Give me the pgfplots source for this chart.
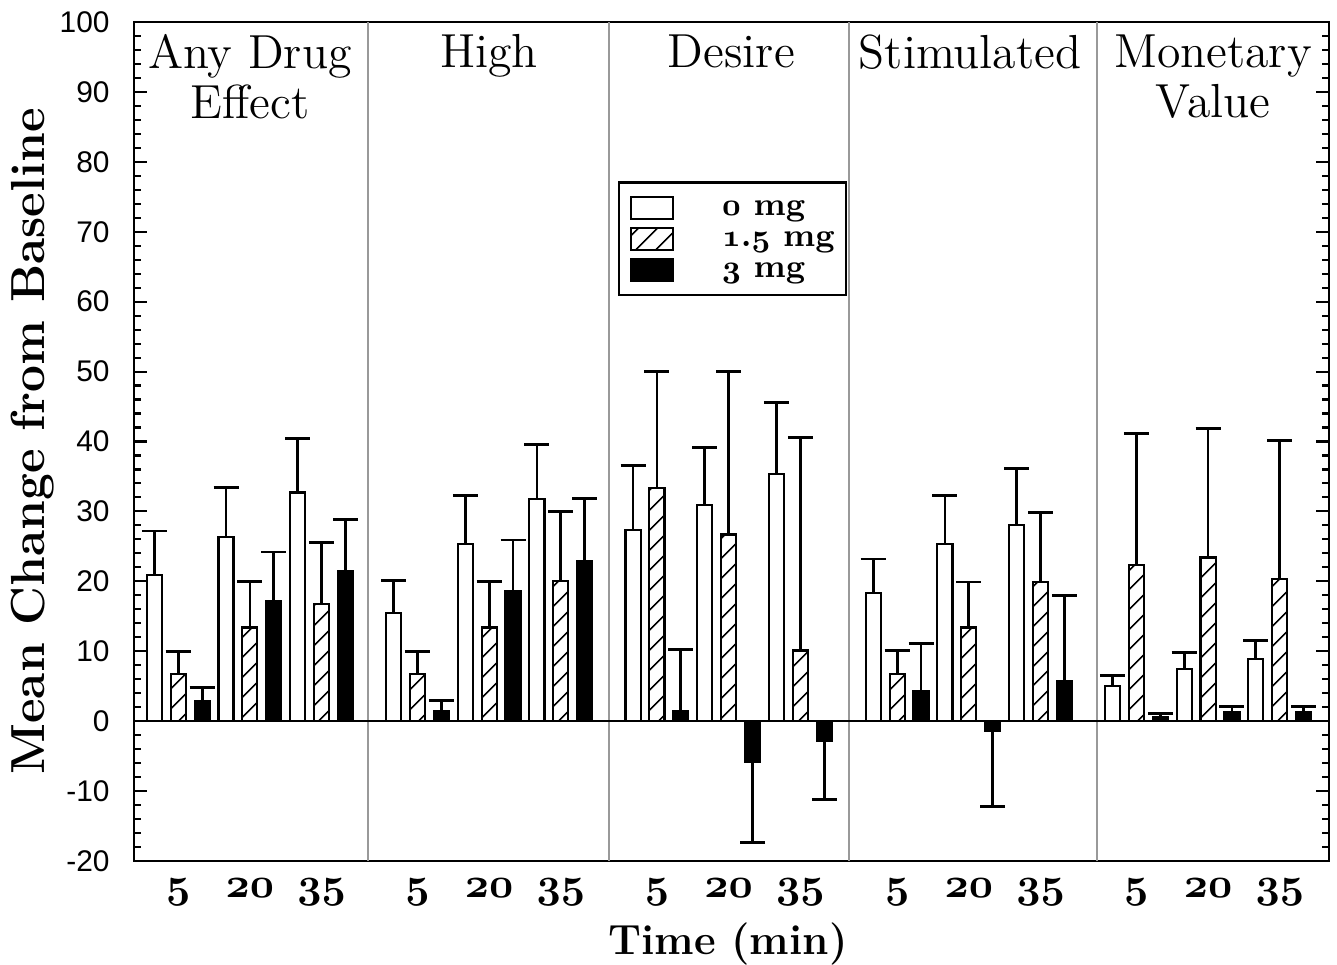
\documentclass[border=0pt]{standalone}
\usepackage{fontspec}
\setsansfont{Liberation Sans}
\usepackage{pgfplots}
\pgfplotsset{compat=1.18}
\usetikzlibrary{patterns.meta}
% old-style bold digits, as in the reference
\newcommand\osn[1]{{\boldmath$\mathnormal{#1}$}}

\pgfplotsset{
  bars/.style={ybar, bar width=0.63, bar shift=0pt, draw=black, line width=0.6pt},
  errs/.style={error bars/.cd, y dir=#1, y explicit,
    error bar style={line width=0.8pt, black},
    error mark options={rotate=90, mark size=0.125cm, line width=0.8pt, black}},
}

\begin{document}
\begin{tikzpicture}
\path[use as bounding box] (-1.34cm,-1.04cm) rectangle (12.03cm,8.61cm);
\begin{axis}[
  at={(0,0)}, anchor=south west,
  scale only axis, width=11.95cm, height=8.39cm,
  xmin=0, xmax=50, ymin=-20, ymax=100,
  axis line style={line width=0.6pt},
  ytick distance=10, minor y tick num=4,
  major tick length=0.13cm, minor tick length=0.07cm,
  tick style={black, line width=0.6pt},
  xtick={1.85,4.85,7.85,11.86,14.86,17.86,21.88,24.88,27.88,31.93,34.93,37.93,41.94,44.94,47.94},
  xticklabels={\osn{5},\osn{20},\osn{35},\osn{5},\osn{20},\osn{35},\osn{5},\osn{20},\osn{35},
               \osn{5},\osn{20},\osn{35},\osn{5},\osn{20},\osn{35}},
  xtick style={draw=none},
  x tick label style={anchor=base, yshift=-0.37cm, font=\fontsize{12}{14}\selectfont},
  y tick label style={font=\fontsize{8.5}{10}\sffamily, xshift=-0.12cm},
  /pgf/number format/assume math mode=true,
  extra x ticks={9.79,19.87,29.92,40.29},
  extra x tick labels={},
  extra x tick style={major tick length=0pt, grid=major, major grid style={gray!80, line width=0.5pt}},
  extra y ticks={0},
  extra y tick labels={},
  extra y tick style={grid=major, major grid style={black, line width=0.7pt}},
  xlabel={Time (min)},
  xlabel style={font=\bfseries\fontsize{12}{14}\selectfont, at={(axis description cs:0.497,0)}, anchor=base, yshift=-0.94cm},
  ylabel={Mean Change from Baseline},
  ylabel style={font=\bfseries\fontsize{13.6}{15}\selectfont, at={(axis description cs:-0.0845,0.5)}, anchor=center},
  legend style={at={(axis cs:20.25,77.2)}, anchor=north west, draw=black, line width=0.6pt,
    inner xsep=0.11cm, inner ysep=0.1cm, row sep=0pt, cells={anchor=west},
    nodes={inner sep=0pt, text height=6.5pt, text depth=2.3pt, font=\bfseries\fontsize{9.3}{11}\selectfont}},
  legend image code/.code={\draw[#1, line width=0.6pt] (0cm,-0.11cm) rectangle (0.42cm,0.11cm);},
]

% 0 mg
\addplot[bars, fill=white, errs=plus] coordinates {
  (0.85,20.9) +- (0,6.3)  (3.85,26.3) +- (0,7.1)  (6.85,32.7) +- (0,7.7)
  (10.86,15.5) +- (0,4.6) (13.86,25.4) +- (0,6.9) (16.86,31.8) +- (0,7.8)
  (20.88,27.3) +- (0,9.3) (23.88,30.9) +- (0,8.2) (26.88,35.4) +- (0,10.2)
  (30.93,18.3) +- (0,4.9) (33.93,25.4) +- (0,6.9) (36.93,28.1) +- (0,8.0)
  (40.94,5.0) +- (0,1.5)  (43.94,7.5) +- (0,2.3)  (46.94,8.9) +- (0,2.6)
};
\addlegendentry{\hspace*{0.48cm}\osn{0} mg}

% 1.5 mg
\addplot[bars, pattern={Lines[angle=45,distance=4pt,line width=0.5pt]}, errs=plus] coordinates {
  (1.85,6.7) +- (0,3.3)   (4.85,13.4) +- (0,6.6)  (7.85,16.7) +- (0,8.8)
  (11.86,6.7) +- (0,3.3)  (14.86,13.4) +- (0,6.6) (17.86,20.0) +- (0,10.0)
  (21.88,33.4) +- (0,16.6) (24.88,26.7) +- (0,23.3) (27.88,10.1) +- (0,30.5)
  (31.93,6.7) +- (0,3.4)  (34.93,13.4) +- (0,6.5) (37.93,19.9) +- (0,10.0)
  (41.94,22.3) +- (0,18.9) (44.94,23.4) +- (0,18.5) (47.94,20.3) +- (0,19.8)
};
\addlegendentry{\hspace*{0.48cm}\osn{1}.\osn{5} mg}

% 3 mg, positive means
\addplot[bars, fill=black, errs=plus] coordinates {
  (2.85,2.9) +- (0,1.9)   (5.85,17.2) +- (0,7.0)  (8.85,21.5) +- (0,7.4)
  (12.86,1.4) +- (0,1.5)  (15.86,18.6) +- (0,7.3) (18.86,22.9) +- (0,8.9)
  (22.88,1.5) +- (0,8.8)
  (32.93,4.3) +- (0,6.8)  (38.93,5.7) +- (0,12.3)
  (42.94,0.6) +- (0,0.5)  (45.94,1.3) +- (0,0.8) (48.94,1.3) +- (0,0.8)
};
\addlegendentry{\hspace*{0.48cm}\osn{3} mg}

% 3 mg, negative means
\addplot[forget plot, bars, fill=black, errs=minus] coordinates {
  (25.88,-5.8) +- (0,11.6) (28.88,-2.9) +- (0,8.3) (35.93,-1.4) +- (0,10.8)
};

\tikzset{ptitle/.style={anchor=north, align=center, inner sep=0pt, font=\fontsize{13.6}{14.2}\selectfont}}
\node[ptitle] at (axis cs:4.85,98.3) {Any Drug\\Effect};
\node[ptitle] at (axis cs:14.85,98.3) {High};
\node[ptitle] at (axis cs:25.0,98.3) {Desire};
\node[ptitle] at (axis cs:34.98,98.3) {Stimulated};
\node[ptitle] at (axis cs:45.15,98.3) {Monetary\\Value};
\end{axis}
\end{tikzpicture}
\end{document}
